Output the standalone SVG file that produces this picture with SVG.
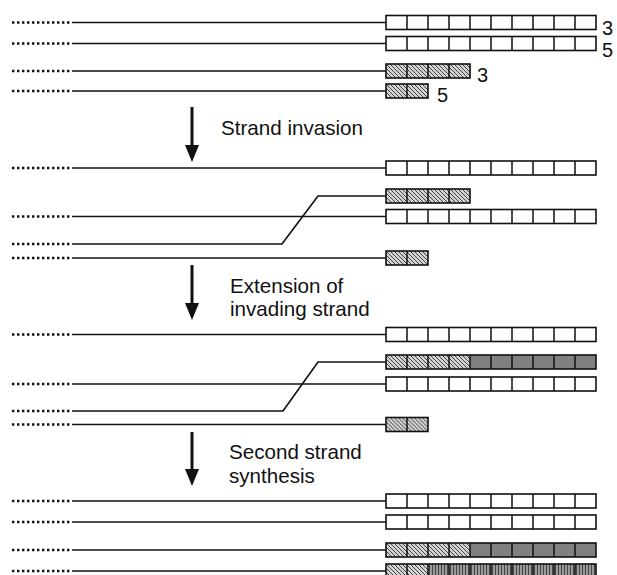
<svg xmlns="http://www.w3.org/2000/svg" xmlns:xlink="http://www.w3.org/1999/xlink" width="617" height="575" viewBox="0 0 617 575">
<style>
.dot{stroke:#111;stroke-width:2.4;stroke-dasharray:2.4 2.6;fill:none}
.ln{stroke:#111;stroke-width:1.7;fill:none}
.ol{fill:none;stroke:#111;stroke-width:1.6}
.dv{stroke:#111;stroke-width:1.5}
.lbl{font-family:"Liberation Sans",Arial,sans-serif;font-size:20.6px;fill:#111}
.num{font-family:"Liberation Sans",Arial,sans-serif;font-size:20px;fill:#111}
.arr{stroke:#111;stroke-width:3;fill:none}
</style>
<defs>
<pattern id="hatch" patternUnits="userSpaceOnUse" width="4" height="4">
<rect width="4" height="4" fill="#d2d2d2"/>
<path d="M-1,-1 L5,5 M-1,3 L1,5 M3,-1 L5,1" stroke="#444" stroke-width="1"/>
</pattern>
<pattern id="stripe" patternUnits="userSpaceOnUse" width="3" height="3">
<rect width="3" height="3" fill="#9a9a9a"/>
<rect x="1" width="1" height="3" fill="#444"/>
</pattern>
<g id="div10"><path class="dv" d="M21,0v14M42,0v14M63,0v14M84,0v14M105,0v14M126,0v14M147,0v14M168,0v14M189,0v14"/></g>
<g id="w10"><rect width="210" height="14" fill="#fff"/><use xlink:href="#div10"/><rect class="ol" width="210" height="14"/></g>
<g id="h4"><rect width="84" height="14" fill="url(#hatch)"/><path class="dv" d="M21,0v14M42,0v14M63,0v14"/><rect class="ol" width="84" height="14"/></g>
<g id="h2"><rect width="42" height="14" fill="url(#hatch)"/><path class="dv" d="M21,0v14"/><rect class="ol" width="42" height="14"/></g>
<g id="h4d6"><rect width="84" height="14" fill="url(#hatch)"/><rect x="84" width="126" height="14" fill="#808080"/><use xlink:href="#div10"/><rect class="ol" width="210" height="14"/></g>
<g id="h2s8"><rect width="42" height="14" fill="url(#hatch)"/><rect x="42" width="168" height="14" fill="url(#stripe)"/><use xlink:href="#div10"/><rect class="ol" width="210" height="14"/></g>
</defs>
<rect width="617" height="575" fill="#fff"/>

<!-- Stage 1 -->
<g id="s1-r1"><path class="dot" d="M12,22.5H72"/><path class="ln" d="M72,22.5H386"/><use xlink:href="#w10" x="386" y="15.5"/><text class="num" x="602" y="35">3</text></g>
<g id="s1-r2"><path class="dot" d="M12,43.5H72"/><path class="ln" d="M72,43.5H386"/><use xlink:href="#w10" x="386" y="36.5"/><text class="num" x="602" y="57">5</text></g>
<g id="s1-r3"><path class="dot" d="M12,71H72"/><path class="ln" d="M72,71H386"/><use xlink:href="#h4" x="386" y="64"/><text class="num" x="477" y="82">3</text></g>
<g id="s1-r4"><path class="dot" d="M12,91H72"/><path class="ln" d="M72,91H386"/><use xlink:href="#h2" x="386" y="84"/><text class="num" x="437" y="102">5</text></g>
<g id="step1"><text class="lbl" x="221" y="135">Strand invasion</text></g>

<!-- Stage 2 -->
<g id="s2-r1"><path class="dot" d="M12,168H72"/><path class="ln" d="M72,168H386"/><use xlink:href="#w10" x="386" y="161"/></g>
<g id="s2-inv"><path class="dot" d="M12,244H72"/><path class="ln" d="M72,244H282L318,196H386"/><use xlink:href="#h4" x="386" y="189"/></g>
<g id="s2-r2"><path class="dot" d="M12,216.5H72"/><path class="ln" d="M72,216.5H386"/><use xlink:href="#w10" x="386" y="209.5"/></g>
<g id="s2-r4"><path class="dot" d="M12,258H72"/><path class="ln" d="M72,258H386"/><use xlink:href="#h2" x="386" y="251"/></g>
<g id="step2"><text class="lbl" x="230" y="293">Extension of</text><text class="lbl" x="230" y="316">invading strand</text></g>

<!-- Stage 3 -->
<g id="s3-r1"><path class="dot" d="M12,334.5H72"/><path class="ln" d="M72,334.5H386"/><use xlink:href="#w10" x="386" y="327.5"/></g>
<g id="s3-inv"><path class="dot" d="M12,411H72"/><path class="ln" d="M72,411H283L318,362H386"/><use xlink:href="#h4d6" x="386" y="355"/></g>
<g id="s3-r2"><path class="dot" d="M12,384H72"/><path class="ln" d="M72,384H386"/><use xlink:href="#w10" x="386" y="377"/></g>
<g id="s3-r4"><path class="dot" d="M12,424.5H72"/><path class="ln" d="M72,424.5H386"/><use xlink:href="#h2" x="386" y="417.5"/></g>
<g id="step3"><text class="lbl" x="229" y="459">Second strand</text><text class="lbl" x="229" y="483">synthesis</text></g>

<!-- Stage 4 -->
<g id="s4-r1"><path class="dot" d="M12,501H72"/><path class="ln" d="M72,501H386"/><use xlink:href="#w10" x="386" y="494"/></g>
<g id="s4-r2"><path class="dot" d="M12,522H72"/><path class="ln" d="M72,522H386"/><use xlink:href="#w10" x="386" y="515"/></g>
<g id="s4-r3"><path class="dot" d="M12,550H72"/><path class="ln" d="M72,550H386"/><use xlink:href="#h4d6" x="386" y="543"/></g>
<g id="s4-r4"><path class="dot" d="M12,571H72"/><path class="ln" d="M72,571H386"/><use xlink:href="#h2s8" x="386" y="564"/></g>

<g id="connectors">
<path class="arr" d="M192,107V148"/><path d="M185,145H199L192,162Z" fill="#111"/>
<path class="arr" d="M192,265V306"/><path d="M185,303H199L192,320Z" fill="#111"/>
<path class="arr" d="M192,432V472"/><path d="M185,469H199L192,486Z" fill="#111"/>
</g>
</svg>
